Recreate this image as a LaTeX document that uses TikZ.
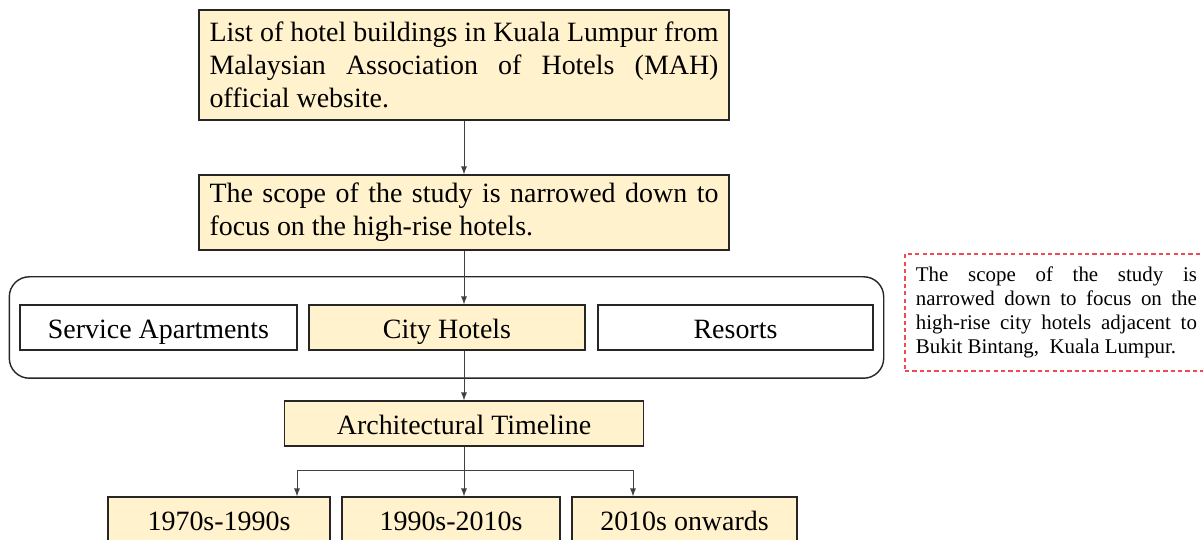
\documentclass[tikz,border=0pt]{standalone}
\usepackage{fontspec}
\setmainfont{Liberation Serif}
\usepackage{tikz}
\usetikzlibrary{positioning}
\usetikzlibrary{arrows}
\usetikzlibrary{fit}
\definecolor{boxfill}{HTML}{FFF2CC}
\definecolor{notered}{HTML}{F04B55}
\tikzset{
  arrow_flow/.style={-latex, line width = 0.55pt, color = black!75},
  line_flow/.style={line width = 0.55pt, color = black!75},
  box_main/.style={rectangle, draw = black!85, line width = 0.8pt, fill = boxfill, inner xsep = 0.21cm, inner ysep = 0, font = \fontsize{15.9}{18.8}\selectfont},
  box_text/.style={box_main, text width = 10.18cm, align = justify},
  box_plain/.style={box_main, fill = white, minimum height = 0.9cm, align = center, text height = 12.5pt, text depth = 0.5pt},
  box_note/.style={rectangle, draw = notered, line width = 1.1pt, dash pattern = on 2.4pt off 1.8pt, inner xsep = 0.22cm, inner ysep = 0, text width = 5.62cm, align = justify, minimum height = 2.34cm, font = \fontsize{11.9}{13.5}\selectfont},
  frame_box/.style={rectangle, rounded corners = 0.4cm, draw = black!85, line width = 0.8pt, inner xsep = 0.2cm, inner ysep = 0.55cm}}
\begin{document}
\begin{tikzpicture}
\useasboundingbox (0,0) rectangle (24.06,-10.8);
\clip (0,0) rectangle (24.06,-10.8);

\node[box_text, minimum height = 2.2cm] at (9.28,-1.3) (list) {List of hotel buildings in Kuala Lumpur from\linebreak Malaysian Association of Hotels (MAH)\linebreak official website.};
\node[box_text, minimum height = 1.5cm] at (9.28,-4.25) (scope) {The scope of the study is narrowed down to\linebreak focus on the high-rise hotels.};

\node[box_plain, minimum width = 5.54cm] at (3.17,-6.55)  (svc)  {Service Apartments};
\node[box_plain, minimum width = 5.52cm, fill = boxfill] at (8.94,-6.55) (city) {City Hotels};
\node[box_plain, minimum width = 5.50cm] at (14.71,-6.55) (res)  {Resorts};
\node[frame_box, fit = (svc)(res)] (frame) {};

\node[box_plain, minimum width = 7.18cm, fill = boxfill] at (9.28,-8.47) (timeline) {Architectural Timeline};

\node[box_plain, minimum width = 4.44cm, fill = boxfill] at (4.38,-10.39)  (t1) {1970s-1990s};
\node[box_plain, minimum width = 4.36cm, fill = boxfill] at (9.02,-10.39)  (t2) {1990s-2010s};
\node[box_plain, minimum width = 4.50cm, fill = boxfill] at (13.69,-10.39) (t3) {2010s onwards};

\node[box_note, anchor = north west] at (18.08,-5.06) (note) {The scope of the study is\linebreak narrowed down to focus on the\linebreak high-rise city hotels adjacent to\linebreak Bukit Bintang,\ \ Kuala Lumpur.};

\coordinate (fork)   at (9.28,-9.4);
\coordinate (fork_l) at (5.94,-9.4);
\coordinate (fork_r) at (12.66,-9.4);

%% arrows
\draw[arrow_flow] (list.south) -- (scope.north);
\draw[arrow_flow] (scope.south) -- (scope.south |- city.north);
\draw[arrow_flow] (timeline.north |- city.south) -- (timeline.north);

\draw[line_flow] (timeline.south) -- (fork);
\draw[line_flow] (fork_l) -- (fork_r);
\draw[arrow_flow] (fork_l) -- (fork_l |- t1.north);
\draw[arrow_flow] (fork) -- (fork |- t2.north);
\draw[arrow_flow] (fork_r) -- (fork_r |- t3.north);

\end{tikzpicture}
\end{document}
